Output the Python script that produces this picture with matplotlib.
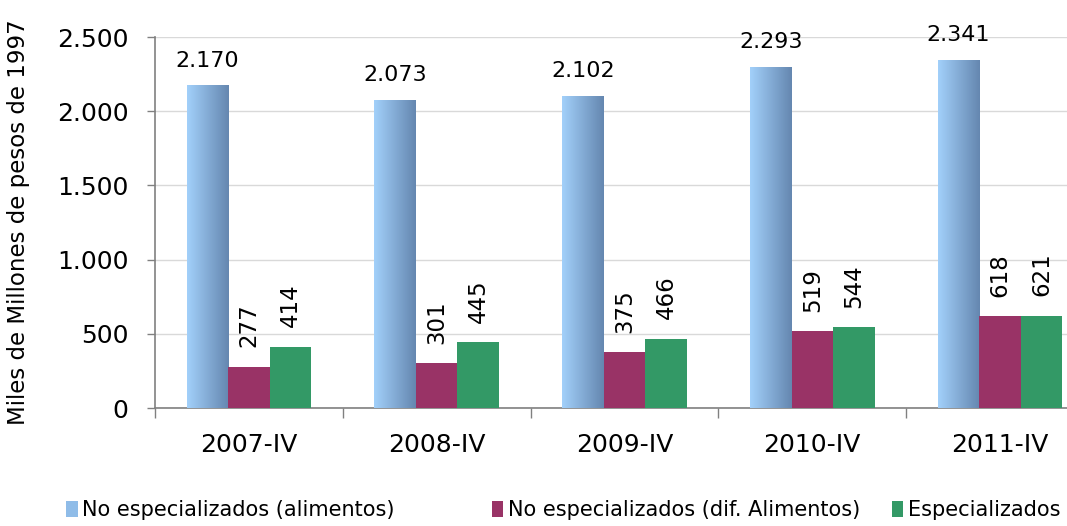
import numpy as np
import matplotlib
matplotlib.use("Agg")
import matplotlib.pyplot as plt
from matplotlib.colors import LinearSegmentedColormap
from matplotlib.patches import Patch
from matplotlib.ticker import FuncFormatter

categories = ["2007-IV", "2008-IV", "2009-IV", "2010-IV", "2011-IV"]
no_esp_alim = [2170, 2073, 2102, 2293, 2341]
no_esp_dif = [277, 301, 375, 519, 618]
especializados = [414, 445, 466, 544, 621]
series_names = ["No especializados (alimentos)",
                "No especializados (dif. Alimentos)",
                "Especializados"]
ylabel = "Miles de Millones de pesos de 1997"

plt.rcParams['font.family'] = ['DejaVu Sans']

def fmt(v):
    return f"{int(v):,}".replace(",", ".")

fig = plt.figure(figsize=(10.67, 5.26), dpi=100)
ax = fig.add_axes([0.1453, 0.2243, 0.880, 0.7053])

x = np.arange(len(categories))
w = 0.221
blue_l, blue_r = "#A2D0FA", "#6587B0"
maroon = "#993366"
green = "#339966"

grad = LinearSegmentedColormap.from_list("g", [blue_l, blue_r])
gimg = np.linspace(0, 1, 64).reshape(1, -1)

bars_b = ax.bar(x - w, no_esp_alim, w, color="none", edgecolor="none", zorder=3)
for b in bars_b:
    x0, y0 = b.get_x(), b.get_y()
    ax.imshow(gimg, cmap=grad, aspect="auto", zorder=3,
              extent=[x0, x0 + b.get_width(), y0, y0 + b.get_height()],
              interpolation="bicubic")
bars_m = ax.bar(x, no_esp_dif, w, color=maroon, zorder=3)
bars_g = ax.bar(x + w, especializados, w, color=green, zorder=3)

for b, v in zip(bars_b, no_esp_alim):
    ax.annotate(fmt(v), (b.get_x() + b.get_width() / 2, v), xytext=(0, 11),
                textcoords="offset points", ha="center", va="bottom", fontsize=16)
for bars, vals in ((bars_m, no_esp_dif), (bars_g, especializados)):
    for b, v in zip(bars, vals):
        ax.annotate(fmt(v), (b.get_x() + b.get_width() / 2, v), xytext=(0, 14),
                    textcoords="offset points", ha="center", va="bottom",
                    rotation=90, fontsize=16.5)

ax.set_xlim(-0.5, len(categories) - 0.5)
ax.set_ylim(0, 2500)
ax.set_yticks(np.arange(0, 2501, 500))
ax.yaxis.set_major_formatter(FuncFormatter(lambda v, p: fmt(v)))
ax.set_xticks(np.arange(-0.5, len(categories), 1.0))
ax.set_xticklabels([])
ax.set_xticks(x, minor=True)
ax.set_xticklabels(categories, minor=True)
ax.tick_params(axis="x", which="major", length=7, width=1, color="#808080", direction="out")
ax.tick_params(axis="x", which="minor", length=0, labelsize=18, pad=18)
ax.tick_params(axis="y", length=6, width=1, color="#808080", labelsize=18, pad=13)

ax.grid(axis="y", color="#D9D9D9", linewidth=1, zorder=0)
ax.set_axisbelow(True)
for s in ("top", "right"):
    ax.spines[s].set_visible(False)
for s in ("left", "bottom"):
    ax.spines[s].set_color("#808080")
    ax.spines[s].set_linewidth(1.2)

fig.text(0.017, 0.578, ylabel, rotation=90, ha="center", va="center", fontsize=16.5)

legend_colors = ["#8FBCE8", maroon, green]
legend_x = [0.062, 0.461, 0.836]
for name, col, lx in zip(series_names, legend_colors, legend_x):
    fig.legend([Patch(facecolor=col)], [name], loc="center left",
               bbox_to_anchor=(lx, 0.03), frameon=False, fontsize=15,
               handlelength=0.55, handleheight=0.75, handletextpad=0.2,
               borderpad=0, borderaxespad=0)

fig.savefig("out.png", dpi=100)
